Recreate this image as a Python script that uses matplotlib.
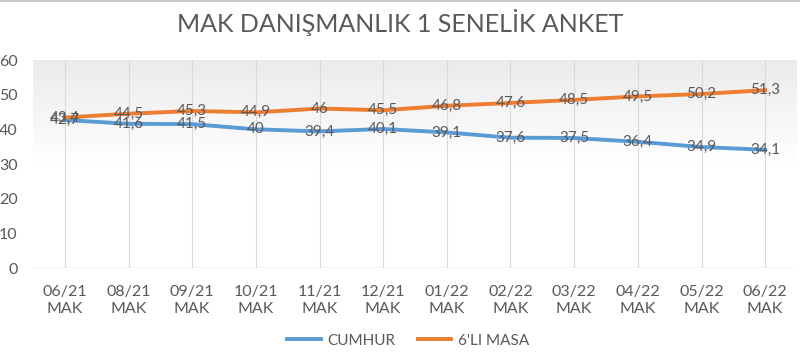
import numpy as np
import matplotlib
matplotlib.use('Agg')
import matplotlib.pyplot as plt
from matplotlib.colors import LinearSegmentedColormap

plt.rcParams['font.family'] = ['Lato', 'DejaVu Sans']

categories = ['06/21\nMAK', '08/21\nMAK', '09/21\nMAK', '10/21\nMAK', '11/21\nMAK', '12/21\nMAK',
              '01/22\nMAK', '02/22\nMAK', '03/22\nMAK', '04/22\nMAK', '05/22\nMAK', '06/22\nMAK']
cumhur = [42.7, 41.6, 41.5, 40, 39.4, 40.1, 39.1, 37.6, 37.5, 36.4, 34.9, 34.1]
masa = [43.4, 44.5, 45.3, 44.9, 46, 45.5, 46.8, 47.6, 48.5, 49.5, 50.2, 51.3]
yticks = [0, 10, 20, 30, 40, 50, 60]

text_gray = '#595959'
blue = '#5B9BD5'
orange = '#ED7D31'

fig = plt.figure(figsize=(8, 3.53), dpi=100)
ax = fig.add_axes([33 / 800, 85 / 353, 764 / 800, 208 / 353])

x = np.arange(len(categories))
ax.set_xlim(-0.5, len(categories) - 0.5)
ax.set_ylim(0, 60)

# soft gradient background in the plot area
cmap = LinearSegmentedColormap.from_list('bg', ['#ffffff', '#ffffff', '#ebebeb'])
grad = np.linspace(0, 1, 256).reshape(-1, 1)
ax.imshow(grad, aspect='auto', cmap=cmap, extent=(-0.5, len(categories) - 0.5, 60, 0),
          origin='upper', zorder=0)

for xi in x:
    ax.axvline(xi, color='#d9d9d9', lw=0.8, zorder=1)
ax.axhline(0, color='#d0d0d0', lw=1, zorder=1)

ax.plot(x, cumhur, color=blue, lw=2.8, label='CUMHUR', zorder=3)
ax.plot(x, masa, color=orange, lw=2.8, label="6'LI MASA", zorder=3)

for xi, v in zip(x, cumhur):
    ax.text(xi, v, f'{v:g}'.replace('.', ','), ha='center', va='center',
            fontsize=11, color=text_gray, zorder=4)
for xi, v in zip(x, masa):
    ax.text(xi, v, f'{v:g}'.replace('.', ','), ha='center', va='center',
            fontsize=11, color=text_gray, zorder=4)

for s in ax.spines.values():
    s.set_visible(False)
ax.set_xticks(x)
ax.set_xticklabels(categories, fontsize=11.5, color=text_gray, linespacing=1.3)
ax.set_yticks(yticks)
ax.set_yticklabels([str(t) for t in yticks], fontsize=11.5, color=text_gray)
ax.tick_params(axis='both', length=0)
ax.tick_params(axis='x', pad=12)
ax.tick_params(axis='y', pad=11)

fig.text(0.5, 0.935, 'MAK DANIŞMANLIK 1 SENELİK ANKET', ha='center', va='center',
         fontsize=18, color=text_gray)

fig.legend(loc='center', bbox_to_anchor=(0.51, 0.035), ncol=2, frameon=False,
           fontsize=11, labelcolor=text_gray, handlelength=2.2, handletextpad=0.4,
           columnspacing=1.5)

# thin frame line at the very top
fig.add_artist(plt.Line2D([0, 1], [0.997, 0.997], color='#bfbfbf', lw=1.2))

fig.savefig('out.png', dpi=100)
